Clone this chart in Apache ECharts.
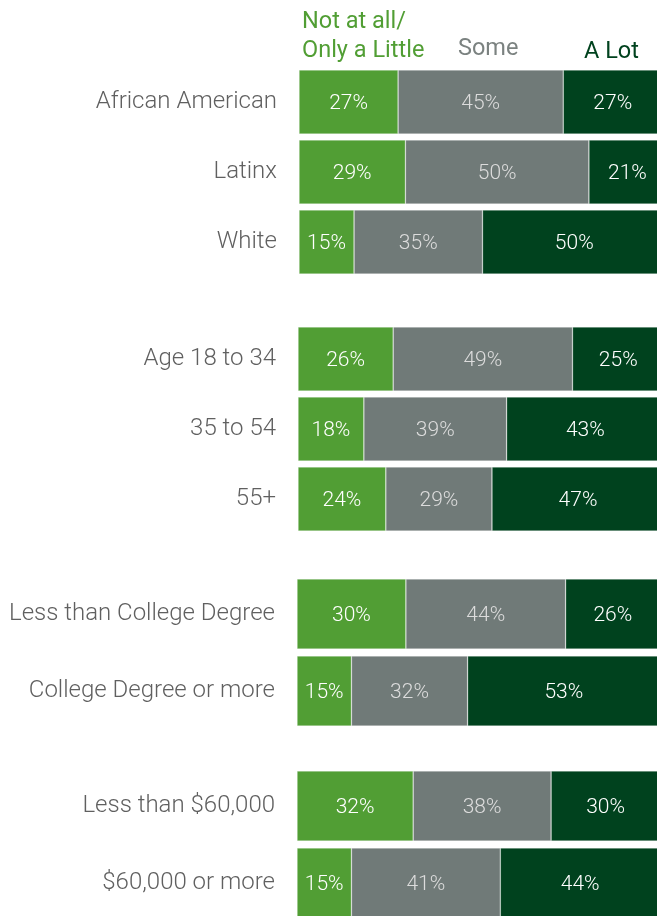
<!DOCTYPE html>
<html lang="en">
<head>
    <meta charset="UTF-8">
    <title>Stacked bars</title>
    <script src="https://cdn.jsdelivr.net/npm/echarts@6/dist/echarts.min.js"></script>
    <style>
        html, body { margin: 0; padding: 0; background: #ffffff; }
        #chart { width: 657px; height: 916px; }
    </style>
</head>
<body>
<div id="chart"></div>
<script>
    // categories per group
    var raceCats = ['African American', 'Latinx', 'White'];
    var ageCats = ['Age 18 to 34', '35 to 54', '55+'];
    var eduCats = ['Less than College Degree', 'College Degree or more'];
    var incomeCats = ['Less than $60,000', '$60,000 or more'];

    // values (percent)
    var raceLittle = [27, 29, 15];
    var raceSome = [45, 50, 35];
    var raceLot = [27, 21, 50];

    var ageLittle = [26, 18, 24];
    var ageSome = [49, 39, 29];
    var ageLot = [25, 43, 47];

    var eduLittle = [30, 15];
    var eduSome = [44, 32];
    var eduLot = [26, 53];

    var incomeLittle = [32, 15];
    var incomeSome = [38, 41];
    var incomeLot = [30, 44];

    var seriesNames = ['Not at all/\nOnly a Little', 'Some', 'A Lot'];

    var groups = [
        {cats: raceCats, vals: [raceLittle, raceSome, raceLot]},
        {cats: ageCats, vals: [ageLittle, ageSome, ageLot]},
        {cats: eduCats, vals: [eduLittle, eduSome, eduLot]},
        {cats: incomeCats, vals: [incomeLittle, incomeSome, incomeLot]}
    ];

    var colors = ['#519e34', '#707a78', '#00421e'];
    var labelColors = ['#ffffff', '#dcdcdc', '#ffffff'];

    // layout of each block
    var boxes = [
        {left: 299, top: 67, width: 367, height: 210, bar: 64},
        {left: 298, top: 324, width: 366, height: 210, bar: 64},
        {left: 297, top: 575.5, width: 363, height: 154, bar: 70},
        {left: 297, top: 767.5, width: 363, height: 154, bar: 70}
    ];

    var font = 'Roboto, "Noto Sans", sans-serif';

    var grid = [], xAxis = [], yAxis = [], series = [];
    groups.forEach(function (g, gi) {
        var b = boxes[gi];
        grid.push({
            left: b.left, top: b.top, width: b.width, height: b.height,
            containLabel: false, outerBoundsMode: 'none'
        });
        xAxis.push({
            type: 'value', gridIndex: gi, min: 0, max: 100,
            show: false
        });
        yAxis.push({
            type: 'category', gridIndex: gi, data: g.cats, inverse: true,
            axisLine: {show: false}, axisTick: {show: false}, splitLine: {show: false},
            axisLabel: {
                fontFamily: font, fontWeight: 300, fontSize: 24,
                color: '#606060', margin: 22, padding: [4, 0, 0, 0]
            }
        });
        g.vals.forEach(function (arr, si) {
            series.push({
                name: seriesNames[si],
                type: 'bar',
                stack: 'g' + gi,
                xAxisIndex: gi,
                yAxisIndex: gi,
                barWidth: b.bar,
                data: arr,
                itemStyle: {
                    color: colors[si],
                    borderColor: 'rgba(255,255,255,0.45)',
                    borderWidth: 0.6
                },
                label: {
                    show: true,
                    position: 'inside',
                    offset: [0, 2],
                    formatter: '{c}%',
                    fontFamily: font,
                    fontWeight: 300,
                    fontSize: 21,
                    color: labelColors[si]
                },
                animation: false
            });
        });
    });

    var myChart = echarts.init(document.getElementById('chart'));
    var option = {
        backgroundColor: '#ffffff',
        animation: false,
        grid: grid,
        xAxis: xAxis,
        yAxis: yAxis,
        series: series,
        graphic: [
            {
                type: 'text', left: 302, top: 8,
                style: {
                    text: seriesNames[0], fill: colors[0],
                    font: '400 23.5px ' + font, lineHeight: 29
                }
            },
            {
                type: 'text', left: 458, top: 37,
                style: {text: seriesNames[1], fill: '#7b8280', font: '400 23.5px ' + font}
            },
            {
                type: 'text', left: 584, top: 40,
                style: {text: seriesNames[2], fill: colors[2], font: '400 23.5px ' + font}
            }
        ]
    };
    myChart.setOption(option);
</script>
</body>
</html>
